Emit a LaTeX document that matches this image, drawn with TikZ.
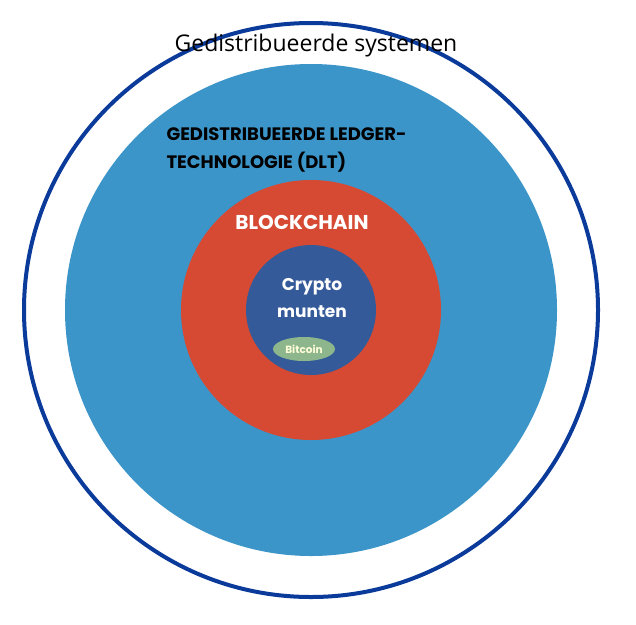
\documentclass[tikz,border=0pt]{standalone}
\usepackage{fontspec}
\usetikzlibrary{shapes.geometric}
\setmainfont{Poppins}
\newfontfamily\thin{Open Sans}
\definecolor{ring}{HTML}{0A3A9A}
\definecolor{dlt}{HTML}{3C95C9}
\definecolor{bc}{HTML}{D64A33}
\definecolor{cm}{HTML}{345A9A}
\definecolor{btc}{HTML}{8DB68C}
\begin{document}
\begin{tikzpicture}[x=1pt,y=-1pt,
  lab/.style={font=\bfseries, text=white, align=center}]
\useasboundingbox (0,0) rectangle (636,624);
\fill[white] (0,0) rectangle (636,624);
\node[circle,draw=ring,line width=4pt,minimum size=574pt,inner sep=0] (outer) at (311,310) {};
\node[circle,fill=dlt,minimum size=492pt,inner sep=0] (dltc) at (311,310) {};
\node[circle,fill=bc,minimum size=260pt,inner sep=0] (bcc) at (311,310) {};
\node[circle,fill=cm,minimum size=130pt,inner sep=0] (cmc) at (311,310) {};
\node[ellipse,fill=btc,minimum width=62pt,minimum height=24pt,inner sep=0,font=\bfseries\fontsize{10.5}{12}\selectfont,text=white!85!yellow] (btcn) at (304,349) {Bitcoin};
\node[font=\thin\fontsize{23}{25}\selectfont] (t0) at (316,46) {Gedistribueerde systemen};
\node[anchor=west,align=left,font=\bfseries\fontsize{18}{28}\selectfont] (t1) at (163,150) {GEDISTRIBUEERDE LEDGER-\\TECHNOLOGIE (DLT)};
\node[lab,font=\bfseries\fontsize{20}{22}\selectfont] (t2) at (302,222) {BLOCKCHAIN};
\node[lab,font=\bfseries\fontsize{17}{27}\selectfont] (t3) at (312,298) {Crypto\\munten};
\end{tikzpicture}
\end{document}
